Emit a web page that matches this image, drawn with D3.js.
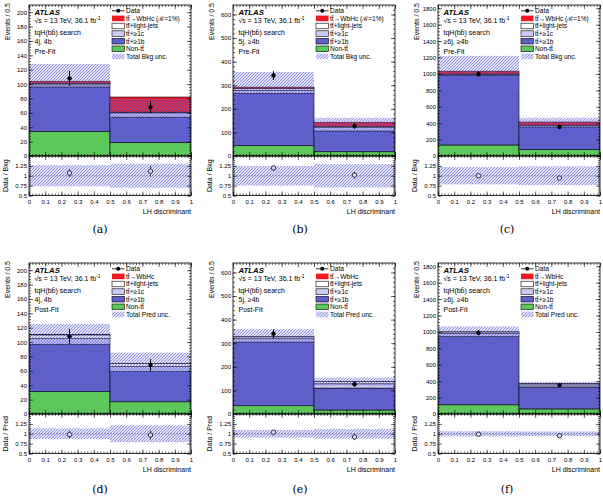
<!DOCTYPE html>
<html>
<head>
<meta charset="utf-8">
<script src="https://cdn.jsdelivr.net/npm/d3@7"></script>
<style>
  body { margin: 0; background: #fff; }
  svg { font-family: "Liberation Sans", Arial, sans-serif; }
  .axis text { font-size: 6px; fill: #000; }
  .axis line { stroke: #000; stroke-width: 0.6; }
  .axis path { display: none; }
</style>
</head>
<body>
<svg id="fig" width="603" height="496"></svg>
<script>
// ---- data ----
const binEdges = [0, 0.5, 1];
const xTicks = [0, 0.1, 0.2, 0.3, 0.4, 0.5, 0.6, 0.7, 0.8, 0.9, 1];
const ratioTicks = [0.5, 0.75, 1, 1.25];
const yTicksSmall = [0, 20, 40, 60, 80, 100, 120, 140, 160, 180, 200];
const yTicksMid = [0, 100, 200, 300, 400, 500, 600];
const yTicksBig = [0, 200, 400, 600, 800, 1000, 1200, 1400, 1600, 1800];

// (a) pre-fit 4j, 4b
const nonTT_a = [34, 18.5], ttb_a = [62, 35.5], ttc_a = [3, 6], ttl_a = [2, 1], sig_a = [3, 21];
const unc_a = [27, 18.5], data_a = [108, 68];
// (b) pre-fit 5j, >=4b
const nonTT_b = [44, 18], ttb_b = [222, 88], ttc_b = [11, 14], ttl_b = [8, 5], sig_b = [7, 18];
const unc_b = [71, 37], data_b = [341, 127];
// (c) pre-fit >=6j, >=4b
const nonTT_c = [134, 77], ttb_c = [850, 277], ttc_c = [10, 16], ttl_c = [6, 6], sig_c = [34, 38];
const unc_c = [220, 90], data_c = [1000, 354];
// (d) post-fit 4j, 4b
const nonTT_d = [31, 17], ttb_d = [66, 42], ttc_d = [8, 7], ttl_d = [5, 4], sig_d = [0.3, 0.3];
const unc_d = [15, 15], data_d = [108, 68];
// (e) post-fit 5j, >=4b
const nonTT_e = [35, 17], ttb_e = [270, 93], ttc_e = [14, 18], ttl_e = [8, 9], sig_e = [0.5, 0.5];
const unc_e = [32, 17], data_e = [340, 126];
// (f) post-fit >=6j, >=4b
const nonTT_f = [112, 62], ttb_f = [833, 268], ttc_f = [35, 25], ttl_f = [20, 15], sig_f = [1, 1];
const unc_f = [65, 22], data_f = [990, 352];

const legendPre = ["Data", "t\u0074\u0304\u2192WbHc (\u212C=1%)", "t\u0074\u0304+light-jets", "t\u0074\u0304+\u22651c", "t\u0074\u0304+\u22651b", "Non-t\u0074\u0304", "Total Bkg unc."];
const legendPost = ["Data", "t\u0074\u0304\u2192WbHc", "t\u0074\u0304+light-jets", "t\u0074\u0304+\u22651c", "t\u0074\u0304+\u22651b", "Non-t\u0074\u0304", "Total Pred unc."];

const stackKeys = ["nonTT", "ttb", "ttc", "ttl", "sig"];
const stackColors = { nonTT: "#5cc85c", ttb: "#5f5fca", ttc: "#cbcbf4", ttl: "#ffffff", sig: "#f01822" };
const legendKeys = ["sig", "ttl", "ttc", "ttb", "nonTT"];

const panels = [
  { tag: "(a)", cat: "4j, 4b", post: false, yMax: 210, yTicks: yTicksSmall, minor: 4,
    nonTT: nonTT_a, ttb: ttb_a, ttc: ttc_a, ttl: ttl_a, sig: sig_a, unc: unc_a, data: data_a },
  { tag: "(b)", cat: "5j, \u22654b", post: false, yMax: 640, yTicks: yTicksMid, minor: 20,
    nonTT: nonTT_b, ttb: ttb_b, ttc: ttc_b, ttl: ttl_b, sig: sig_b, unc: unc_b, data: data_b },
  { tag: "(c)", cat: "\u22656j, \u22654b", post: false, yMax: 1840, yTicks: yTicksBig, minor: 40,
    nonTT: nonTT_c, ttb: ttb_c, ttc: ttc_c, ttl: ttl_c, sig: sig_c, unc: unc_c, data: data_c },
  { tag: "(d)", cat: "4j, 4b", post: true, yMax: 210, yTicks: yTicksSmall, minor: 4,
    nonTT: nonTT_d, ttb: ttb_d, ttc: ttc_d, ttl: ttl_d, sig: sig_d, unc: unc_d, data: data_d },
  { tag: "(e)", cat: "5j, \u22654b", post: true, yMax: 640, yTicks: yTicksMid, minor: 20,
    nonTT: nonTT_e, ttb: ttb_e, ttc: ttc_e, ttl: ttl_e, sig: sig_e, unc: unc_e, data: data_e },
  { tag: "(f)", cat: "\u22656j, \u22654b", post: true, yMax: 1840, yTicks: yTicksBig, minor: 40,
    nonTT: nonTT_f, ttb: ttb_f, ttc: ttc_f, ttl: ttl_f, sig: sig_f, unc: unc_f, data: data_f }
];

// ---- layout ----
const colX = [29, 233, 438];
const rowY = [5, 263];
const captionX = [100, 300, 507];
const plotW = 162, mainH = 151, ratioH = 39.5;

const svg = d3.select("#fig");
const defs = svg.append("defs");
const hatch = defs.append("pattern")
  .attr("id", "hatch")
  .attr("patternUnits", "userSpaceOnUse")
  .attr("width", 3).attr("height", 3);
hatch.append("rect")
  .attr("width", 3).attr("height", 3)
  .attr("fill", "#7878e4")
  .attr("fill-opacity", 0.22);
hatch.append("path")
  .attr("d", "M-0.75,0.75 l1.5,-1.5 M0,3 l3,-3 M2.25,3.75 l1.5,-1.5")
  .attr("stroke", "#4c4cd0")
  .attr("stroke-opacity", 0.7)
  .attr("stroke-width", 0.75);

function drawPanel(p, idx) {
  let col = idx % 3, row = Math.floor(idx / 3);
  let g = svg.append("g").attr("transform", "translate(" + colX[col] + "," + rowY[row] + ")");

  let x = d3.scaleLinear().domain([0, 1]).range([0, plotW]);
  let y = d3.scaleLinear().domain([0, p.yMax]).range([mainH, 0]);
  let yr = d3.scaleLinear().domain([0.5, 1.5]).range([mainH + ratioH, mainH]);

  let rows = [0, 1].map(i => {
    let r = { i: i };
    stackKeys.forEach(k => r[k] = p[k][i]);
    return r;
  });
  let series = d3.stack().keys(stackKeys)(rows);

  let clip = "clip" + idx;
  defs.append("clipPath").attr("id", clip)
    .append("rect").attr("width", plotW).attr("height", mainH);
  let main = g.append("g").attr("clip-path", "url(#" + clip + ")");

  series.forEach(s => {
    main.selectAll(null)
      .data(s)
      .enter()
      .append("rect")
      .attr("x", d => x(binEdges[d.data.i]))
      .attr("width", d => x(binEdges[d.data.i + 1]) - x(binEdges[d.data.i]))
      .attr("y", d => y(d[1]))
      .attr("height", d => y(d[0]) - y(d[1]))
      .style("fill", stackColors[s.key])
      .style("stroke", "#000")
      .style("stroke-width", 0.6);
  });

  // band centre: background for pre-fit, full prediction for post-fit
  let centre = rows.map(r => r.nonTT + r.ttb + r.ttc + r.ttl + (p.post ? r.sig : 0));

  main.selectAll(".band")
    .data(rows)
    .enter()
    .append("rect")
    .attr("class", "band")
    .attr("x", d => x(binEdges[d.i]))
    .attr("width", d => x(binEdges[d.i + 1]) - x(binEdges[d.i]))
    .attr("y", d => y(centre[d.i] + p.unc[d.i]))
    .attr("height", d => y(centre[d.i] - p.unc[d.i]) - y(centre[d.i] + p.unc[d.i]))
    .style("fill", "url(#hatch)");

  let mid = d => (binEdges[d.i] + binEdges[d.i + 1]) / 2;

  // data
  main.selectAll(".err")
    .data(rows)
    .enter()
    .append("line")
    .attr("x1", d => x(mid(d))).attr("x2", d => x(mid(d)))
    .attr("y1", d => y(p.data[d.i] + Math.sqrt(p.data[d.i])))
    .attr("y2", d => y(p.data[d.i] - Math.sqrt(p.data[d.i])))
    .style("stroke", "#000").style("stroke-width", 1);
  main.selectAll(".pt")
    .data(rows)
    .enter()
    .append("circle")
    .attr("cx", d => x(mid(d)))
    .attr("cy", d => y(p.data[d.i]))
    .attr("r", 2.2)
    .style("fill", "#000");

  // ratio
  g.selectAll(".rband")
    .data(rows)
    .enter()
    .append("rect")
    .attr("x", d => x(binEdges[d.i]))
    .attr("width", d => x(binEdges[d.i + 1]) - x(binEdges[d.i]))
    .attr("y", d => yr(1 + p.unc[d.i] / centre[d.i]))
    .attr("height", d => yr(1 - p.unc[d.i] / centre[d.i]) - yr(1 + p.unc[d.i] / centre[d.i]))
    .style("fill", "url(#hatch)");
  g.append("line")
    .attr("x1", 0).attr("x2", plotW)
    .attr("y1", yr(1)).attr("y2", yr(1))
    .style("stroke", "#4a4a90").style("stroke-width", 0.5).style("stroke-dasharray", "2,1");
  g.selectAll(".rerr")
    .data(rows)
    .enter()
    .append("line")
    .attr("x1", d => x(mid(d))).attr("x2", d => x(mid(d)))
    .attr("y1", d => yr((p.data[d.i] + Math.sqrt(p.data[d.i])) / centre[d.i]))
    .attr("y2", d => yr((p.data[d.i] - Math.sqrt(p.data[d.i])) / centre[d.i]))
    .style("stroke", "#223").style("stroke-width", 0.8);
  g.selectAll(".rpt")
    .data(rows)
    .enter()
    .append("circle")
    .attr("cx", d => x(mid(d)))
    .attr("cy", d => yr(p.data[d.i] / centre[d.i]))
    .attr("r", 2.2)
    .style("fill", "#dcdcf4")
    .style("stroke", "#223")
    .style("stroke-width", 0.9);

  // axes, ROOT style ticks inside on all sides
  let xMinor = d3.range(0, 1.0001, 0.02);
  let yMinor = d3.range(0, p.yMax, p.minor);
  let rMinor = d3.range(0.5, 1.5001, 0.05);

  [mainH, mainH + ratioH].forEach((yy, k) => {
    g.append("g").attr("class", "axis").attr("transform", "translate(0," + yy + ")")
      .call(d3.axisBottom(x).tickValues(xTicks).tickSize(-4).tickSizeOuter(0).tickPadding(4)
        .tickFormat(k === 1 ? d3.format("") : ""));
    g.append("g").attr("class", "axis").attr("transform", "translate(0," + yy + ")")
      .call(d3.axisBottom(x).tickValues(xMinor).tickSize(-2).tickSizeOuter(0).tickFormat(""));
  });
  [0, mainH].forEach(yy => {
    g.append("g").attr("class", "axis").attr("transform", "translate(0," + yy + ")")
      .call(d3.axisTop(x).tickValues(xTicks).tickSize(-4).tickSizeOuter(0).tickFormat(""));
    g.append("g").attr("class", "axis").attr("transform", "translate(0," + yy + ")")
      .call(d3.axisTop(x).tickValues(xMinor).tickSize(-2).tickSizeOuter(0).tickFormat(""));
  });

  g.append("g").attr("class", "axis")
    .call(d3.axisLeft(y).tickValues(p.yTicks).tickSize(-4).tickSizeOuter(0).tickPadding(2).tickFormat(d3.format("")));
  g.append("g").attr("class", "axis")
    .call(d3.axisLeft(y).tickValues(yMinor).tickSize(-2).tickSizeOuter(0).tickFormat(""));
  g.append("g").attr("class", "axis").attr("transform", "translate(" + plotW + ",0)")
    .call(d3.axisRight(y).tickValues(p.yTicks).tickSize(-4).tickSizeOuter(0).tickFormat(""));
  g.append("g").attr("class", "axis").attr("transform", "translate(" + plotW + ",0)")
    .call(d3.axisRight(y).tickValues(yMinor).tickSize(-2).tickSizeOuter(0).tickFormat(""));

  g.append("g").attr("class", "axis")
    .call(d3.axisLeft(yr).tickValues(ratioTicks).tickSize(-4).tickSizeOuter(0).tickPadding(2).tickFormat(d3.format("")));
  g.append("g").attr("class", "axis")
    .call(d3.axisLeft(yr).tickValues(rMinor).tickSize(-2).tickSizeOuter(0).tickFormat(""));
  g.append("g").attr("class", "axis").attr("transform", "translate(" + plotW + ",0)")
    .call(d3.axisRight(yr).tickValues(ratioTicks).tickSize(-4).tickSizeOuter(0).tickFormat(""));
  g.append("g").attr("class", "axis").attr("transform", "translate(" + plotW + ",0)")
    .call(d3.axisRight(yr).tickValues(rMinor).tickSize(-2).tickSizeOuter(0).tickFormat(""));

  // frames
  g.append("rect").attr("width", plotW).attr("height", mainH)
    .style("fill", "none").style("stroke", "#000").style("stroke-width", 0.8);
  g.append("rect").attr("y", mainH).attr("width", plotW).attr("height", ratioH)
    .style("fill", "none").style("stroke", "#000").style("stroke-width", 0.8);

  // axis titles
  g.append("text")
    .attr("transform", "translate(-19.5,-2) rotate(-90)")
    .attr("text-anchor", "end")
    .style("font-size", "7px")
    .text("Events / 0.5");
  g.append("text")
    .attr("transform", "translate(-21," + (mainH + ratioH / 2) + ") rotate(-90)")
    .attr("text-anchor", "middle")
    .style("font-size", "7px")
    .text(p.post ? "Data / Pred" : "Data / Bkg");
  g.append("text")
    .attr("x", plotW).attr("y", mainH + ratioH + 18.5)
    .attr("text-anchor", "end")
    .style("font-size", "7px")
    .text("LH discriminant");

  // labels
  let tx = 5.5;
  let atlas = g.append("text").attr("x", tx).attr("y", 9.8).style("font-size", "7.8px");
  atlas.append("tspan").style("font-weight", "bold").style("font-style", "italic").text("ATLAS");
  let lumi = g.append("text").attr("x", tx).attr("y", 17.8).style("font-size", "7px");
  lumi.append("tspan").text("\u221As = 13 TeV, 36.1 fb");
  lumi.append("tspan").attr("dy", -2.8).style("font-size", "5px").text("-1");
  g.append("text").attr("x", tx).attr("y", 29.8).style("font-size", "7px").text("tqH(bb\u0304) search");
  g.append("text").attr("x", tx).attr("y", 39.2).style("font-size", "7px").text(p.cat);
  g.append("text").attr("x", tx).attr("y", 49.2).style("font-size", "7px").text(p.post ? "Post-Fit" : "Pre-Fit");

  // legend
  let labels = p.post ? legendPost : legendPre;
  let lx = 83, bw = 12.5, bh = 5.6;
  let ly = d3.scaleLinear().domain([0, 6]).range([5.8, 51.4]);
  let leg = g.append("g");
  leg.selectAll("text")
    .data(labels)
    .enter()
    .append("text")
    .attr("x", lx + 14)
    .attr("y", (d, i) => ly(i) + 2.4)
    .style("font-size", "6.6px")
    .text(d => d);
  leg.append("line")
    .attr("x1", lx).attr("x2", lx + bw).attr("y1", ly(0)).attr("y2", ly(0))
    .style("stroke", "#000").style("stroke-width", 0.8);
  leg.append("circle").attr("cx", lx + bw / 2).attr("cy", ly(0)).attr("r", 2).style("fill", "#000");
  leg.selectAll(".box")
    .data(legendKeys)
    .enter()
    .append("rect")
    .attr("x", lx)
    .attr("y", (d, i) => ly(i + 1) - bh / 2)
    .attr("width", bw).attr("height", bh)
    .style("fill", d => stackColors[d])
    .style("stroke", d => d === "sig" ? "none" : "#000")
    .style("stroke-width", 0.6);
  leg.append("rect")
    .attr("x", lx).attr("y", ly(6) - bh / 2)
    .attr("width", bw).attr("height", bh)
    .style("fill", "url(#hatch)");

  // caption
  svg.append("text")
    .attr("x", captionX[col]).attr("y", row === 0 ? 233 : 493)
    .attr("text-anchor", "middle")
    .style("font-family", "'DejaVu Serif', serif")
    .style("font-size", "11px")
    .text(p.tag);
}

panels.forEach(drawPanel);
</script>
</body>
</html>
